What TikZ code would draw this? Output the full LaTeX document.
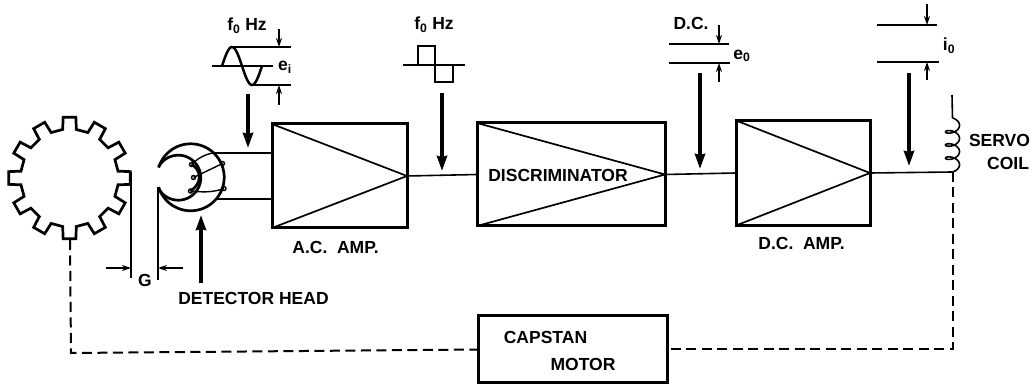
\documentclass[tikz,border=0pt]{standalone}
\usepackage{fontspec}
\setmainfont{Liberation Sans}
\usetikzlibrary{arrows.meta}
\tikzset{
  lbl/.style={font=\fontsize{17.5}{20}\selectfont\bfseries,inner sep=0pt,outer sep=0pt,align=center},
  ampbox/.style={draw,line width=3pt,inner sep=0pt,outer sep=0pt,rectangle},
  wire/.style={line width=1.6pt},
  thinline/.style={line width=1.4pt},
  heavyarrow/.style={line width=3.4pt,-{Stealth[length=15pt,width=10pt,inset=1pt]}},
  smallarrow/.style={line width=1.3pt,-{Stealth[length=9pt,width=6pt]}},
  feedback/.style={line width=2pt,dash pattern=on 10pt off 5.5pt},
  heavy/.style={line width=2.7pt},
}
\begin{document}
\begin{tikzpicture}[x=1pt,y=-1pt,line join=miter]
\useasboundingbox (0,0) rectangle (1034,387);
% boxes
\node[ampbox,minimum width=135pt,minimum height=104pt] (ac) at (339.5,176) {};
\node[ampbox,minimum width=188pt,minimum height=103pt] (disc) at (571,174.5) {};
\node[ampbox,minimum width=134pt,minimum height=105pt] (dc) at (803,173) {};
\node[ampbox,minimum width=189pt,minimum height=67pt] (cap) at (572.5,349.5) {};
\foreach \b in {ac,disc,dc}{
  \draw[line width=1.7pt] (\b.north west) -- (\b.east) -- (\b.south west);
}
% labels
\node[lbl] (lac) at (335.5,247) {A.C.\ \ AMP.};
\node[lbl] (ldc) at (801.5,243) {D.C.\ \ AMP.};
\node[lbl] (ldisc) at (558,175) {DISCRIMINATOR};
\node[lbl] (lcap) at (545.5,337) {CAPSTAN};
\node[lbl] (lmot) at (583,364) {MOTOR};
\node[lbl] (lg) at (145,280) {G};
\node[lbl] (ldet) at (253.5,298) {DETECTOR HEAD};
\node[lbl] (lf1) at (247,26) {f\textsubscript{0} Hz};
\node[lbl] (lf2) at (434,25) {f\textsubscript{0} Hz};
\node[lbl] (ldcv) at (691,23) {D.C.};
\node[lbl] (lei) at (285,67) {e\textsubscript{i}};
\node[lbl] (leo) at (742,56) {e\textsubscript{0}};
\node[lbl] (lio) at (949,46) {i\textsubscript{0}};
\node[lbl,anchor=east] (lservo) at (1030,140) {SERVO};
\node[lbl,anchor=east] (lcoil) at (1029,163) {COIL};
% gear
\draw[heavy] ({69.5+49*cos(-8)},{178+49*sin(-8)})
  \foreach \a in {0,30,...,330}{
    -- ({69.5+61*cos(\a-6)},{178+61*sin(\a-6)})
    -- ({69.5+61*cos(\a+6)},{178+61*sin(\a+6)})
    -- ({69.5+49*cos(\a+8)},{178+49*sin(\a+8)})
    -- ({69.5+49*cos(\a+22)},{178+49*sin(\a+22)})
  } -- cycle;
\coordinate (gearbottom) at (70,240);
\coordinate (gearright) at (131,172);
% gap
\coordinate (gapL) at (131,278);
\coordinate (headtip) at (158,187);
\coordinate (gapR) at (158,280);
\draw[thinline] (gearright) -- (gapL);
\draw[thinline] (headtip) -- (gapR);
\coordinate (gl) at (106,268);
\coordinate (glt) at (131,268);
\coordinate (gr) at (183,268);
\coordinate (grt) at (158,268);
\draw[smallarrow] (gl) -- (glt);
\draw[smallarrow] (gr) -- (grt);
% detector head
\draw[heavy] plot[domain=197:523,samples=60] ({190.7+33.5*cos(\x)},{177.3+33.5*sin(\x)});
\draw[heavy] plot[domain=208:512,samples=60] ({178.3+22.5*cos(\x)},{177.7+22.5*sin(\x)});
\coordinate (p1) at (191.5,164.5);
\coordinate (p2) at (193.5,177.5);
\coordinate (p3) at (190.5,191);
\coordinate (o1) at (222.5,163.5);
\coordinate (o2) at (224,188.5);
\coordinate (wt) at (213,153);
\coordinate (wb) at (217,199);
\foreach \p in {p1,p2,p3,o1,o2}{\draw[line width=1.4pt] (\p) circle[radius=2pt];}
\draw[thinline] (p1) .. controls (198,158) and (206,154) .. (wt);
\draw[thinline] (p2) -- (o1);
\draw[thinline] (p3) .. controls (200,192) and (212,193) .. (o2);
\draw[heavy] (p1) .. controls (202,170) and (202,184) .. (p3);
\draw[thinline] (wt) -- (wt -| ac.west);
\draw[thinline] (wb) -- (wb -| ac.west);
\coordinate (detA) at (201,283);
\coordinate (detB) at (201,215);
\draw[heavyarrow] (detA) -- (detB);
% signal wires
\draw[wire] (ac.east) -- (disc.west);
\draw[wire] (disc.east) -- (dc.west);
\coordinate (coilend) at (952.5,172);
\draw[wire] (dc.east) -- (coilend);
% coil
\coordinate (coiltop) at (952,95);
\draw[wire] (coiltop) -- (952.5,118);
\draw[wire] plot[domain=0:1260,samples=220] ({952.5+7*sin(\x)},{122+0.036508*\x-4*cos(\x)});
% feedback
\draw[feedback] (coilend) -- (coilend |- cap.east) -- (cap.east);
\coordinate (fbcorner) at (71,353);
\draw[feedback] (gearbottom) -- (fbcorner) -- (cap.west);
% heavy arrows
\coordinate (a1) at (248,94);   \coordinate (a1t) at (248,148);
\coordinate (a2) at (442,93);   \coordinate (a2t) at (442,171);
\coordinate (a3) at (700,73);   \coordinate (a3t) at (700,169);
\coordinate (a4) at (909,73);   \coordinate (a4t) at (909,166);
\foreach \k in {a1,a2,a3,a4}{\draw[heavyarrow] (\k) -- (\k t);}
% sine
\draw[thinline] (212,66) -- (273,66);
\draw[line width=2.5pt] plot[domain=222:262,samples=50] (\x,{66-19*sin((\x-222)*9)});
\draw[thinline] (232,47) -- (291,47);
\draw[thinline] (251,85) -- (291,85);
\draw[smallarrow] (279,29) -- (279,47);
\draw[smallarrow] (279,105) -- (279,85);
% square
\draw[thinline] (403,65) -- (465,65);
\draw[line width=2pt] (418,65) -- (418,46) -- (435,46) -- (435,82) -- (453,82) -- (453,65);
% dc level
\draw[heavy] (669,44) -- (729,44);
\draw[thinline] (669,63) -- (730,63);
\draw[smallarrow] (719,25) -- (719,44);
\draw[smallarrow] (719,82) -- (719,63);
% current level
\draw[line width=1.8pt] (877,25) -- (937,25);
\draw[thinline] (877,62) -- (939,62);
\draw[smallarrow] (927,4) -- (927,25);
\draw[smallarrow] (927,80) -- (927,62);
\end{tikzpicture}
\end{document}
